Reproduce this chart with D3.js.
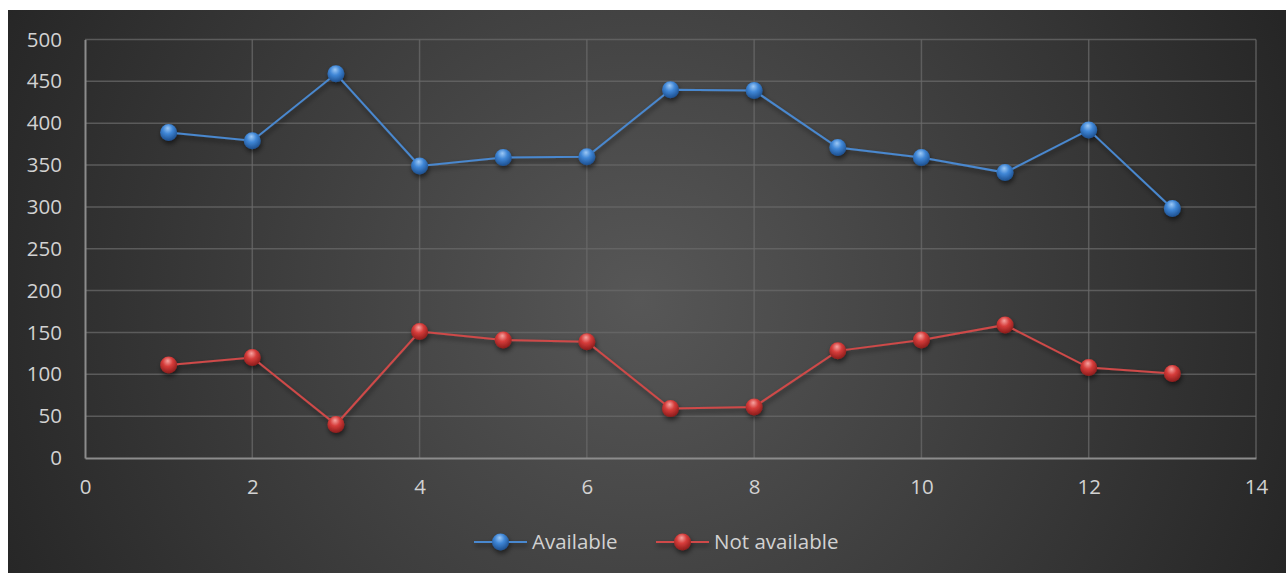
<!DOCTYPE html>
<html><head><meta charset="utf-8">
<script src="https://cdn.jsdelivr.net/npm/d3@7"></script>
<style>html,body{margin:0;padding:0;background:#fff;}svg{display:block;}</style>
</head><body>
<svg id="chart" width="1286" height="573"></svg>
<script>
const xValues = [1,2,3,4,5,6,7,8,9,10,11,12,13];
const available = [389,379,459,349,359,360,440,439,371,359,341,392,298];
const notAvailable = [111,120,40,151,141,139,59,61,128,141,159,108,101];
const seriesNames = ["Available","Not available"];
const xTicks = [0,2,4,6,8,10,12,14];
const yTicks = [0,50,100,150,200,250,300,350,400,450,500];

const svg = d3.select("#chart");
const W = 1286, H = 573;
const defs = svg.append("defs");

const bg = defs.append("radialGradient").attr("id","bg").attr("gradientUnits","userSpaceOnUse")
  .attr("cx",640).attr("cy",300).attr("r",700);
bg.append("stop").attr("offset","0").attr("stop-color","#575757");
bg.append("stop").attr("offset","1").attr("stop-color","#262626");

function sphere(id, light, mid, dark){
  const g = defs.append("radialGradient").attr("id",id).attr("cx","0.45").attr("cy","0.35").attr("r","0.65").attr("fx","0.45").attr("fy","0.25");
  g.append("stop").attr("offset","0").attr("stop-color",light);
  g.append("stop").attr("offset","0.45").attr("stop-color",mid);
  g.append("stop").attr("offset","1").attr("stop-color",dark);
}
sphere("sBlue","#9cc8f5","#3f86d6","#1d4f8e");
sphere("sRed","#f5a3a0","#d63c3a","#8a1c1b");

const sh = defs.append("filter").attr("id","shadow").attr("x","-20%").attr("y","-20%").attr("width","140%").attr("height","160%");
sh.append("feDropShadow").attr("dx",1).attr("dy",3).attr("stdDeviation",2.5).attr("flood-color","#000").attr("flood-opacity",0.55);

svg.append("rect").attr("x",8).attr("y",10).attr("width",W-8).attr("height",H-10).attr("fill","url(#bg)");

const x = d3.scaleLinear().domain([0,14]).range([85,1256]);
const y = d3.scaleLinear().domain([0,500]).range([458,39.5]);

const font = "'Open Sans', sans-serif";
const txt = "#d2d2d2";
const fs = "20.5px";

// gridlines
svg.append("g").selectAll("line").data(yTicks.filter(d=>d>0)).join("line")
  .attr("x1",x(0)).attr("x2",x(14)).attr("y1",d=>y(d)).attr("y2",d=>y(d))
  .attr("stroke","#6a6a6a").attr("stroke-opacity",0.75).attr("stroke-width",1.5);
svg.append("g").selectAll("line").data(xTicks.filter(d=>d>0)).join("line")
  .attr("x1",d=>x(d)).attr("x2",d=>x(d)).attr("y1",y(0)).attr("y2",y(500))
  .attr("stroke","#6a6a6a").attr("stroke-opacity",0.75).attr("stroke-width",1.5);

// axes
const yAxis = d3.axisLeft(y).tickValues(yTicks).tickSize(0).tickPadding(23);
const gy = svg.append("g").attr("transform",`translate(${x(0)},0)`).call(yAxis);
gy.select(".domain").attr("stroke","#8c8c8c").attr("stroke-width",2);
gy.selectAll("text").attr("fill",txt).style("font-family",font).style("font-size",fs);

const xAxis = d3.axisBottom(x).tickValues(xTicks).tickSize(0).tickPadding(21);
const gx = svg.append("g").attr("transform",`translate(0,${y(0)})`).call(xAxis);
gx.select(".domain").attr("stroke","#8c8c8c").attr("stroke-width",2);
gx.selectAll("text").attr("fill",txt).style("font-family",font).style("font-size",fs);

const series = [
  {name: seriesNames[0], values: available, color:"#4a88cf", grad:"url(#sBlue)"},
  {name: seriesNames[1], values: notAvailable, color:"#cf4a48", grad:"url(#sRed)"}
];
const line = d3.line().x((d,i)=>x(xValues[i])).y(d=>y(d));
series.forEach(s=>{
  const g = svg.append("g").attr("filter","url(#shadow)");
  g.append("path").datum(s.values).attr("d",line).attr("fill","none").attr("stroke",s.color).attr("stroke-width",2);
  g.selectAll("circle").data(s.values).join("circle")
    .attr("cx",(d,i)=>x(xValues[i])).attr("cy",d=>y(d)).attr("r",8.5).attr("fill",s.grad);
});

// legend
const legendItems = [
  {s: series[0], x0: 474},
  {s: series[1], x0: 656}
];
const ly = 542;
legendItems.forEach(it=>{
  const g = svg.append("g").attr("filter","url(#shadow)");
  g.append("line").attr("x1",it.x0).attr("x2",it.x0+53).attr("y1",ly).attr("y2",ly).attr("stroke",it.s.color).attr("stroke-width",2);
  g.append("circle").attr("cx",it.x0+26.5).attr("cy",ly).attr("r",8.5).attr("fill",it.s.grad);
  svg.append("text").attr("x",it.x0+58).attr("y",ly).attr("dy","0.35em").attr("fill",txt)
    .style("font-family",font).style("font-size",fs).text(it.s.name);
});
</script>
</body></html>
